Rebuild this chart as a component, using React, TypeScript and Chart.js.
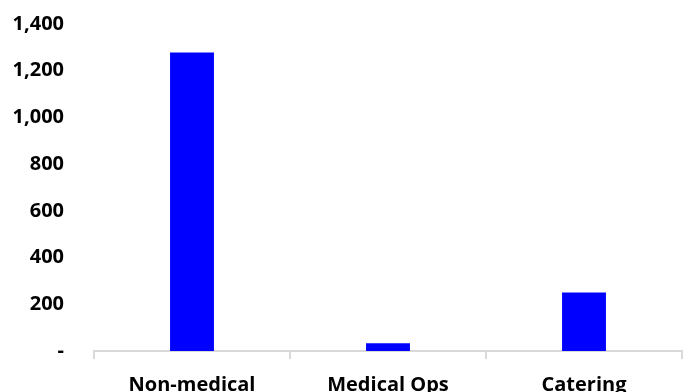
import React, { useEffect, useRef } from "react";
import { Chart, registerables } from "chart.js";

Chart.register(...registerables);

const categories = ["Non-medical", "Medical Ops", "Catering"];
const values = [1278, 33, 250];
const yMin = 0;
const yMax = 1400;
const yStep = 200;

export default function App() {
  const ref = useRef<HTMLCanvasElement | null>(null);
  useEffect(() => {
    document.body.style.margin = "0";
    const ctx = ref.current!;
    const font = { family: "'Open Sans', sans-serif", size: 20, weight: "bold" as const };
    const chart = new Chart(ctx, {
      type: "bar",
      data: {
        labels: categories,
        datasets: [
          {
            data: values,
            backgroundColor: "#0000FF",
            borderWidth: 0,
            categoryPercentage: 1,
            barPercentage: 0.224,
          },
        ],
      },
      options: {
        animation: false,
        responsive: false,
        maintainAspectRatio: false,
        layout: { padding: { top: 0, right: 4, left: 0, bottom: 0 } },
        plugins: { legend: { display: false }, tooltip: { enabled: false } },
        scales: {
          x: {
            offset: true,
            grid: {
              offset: true,
              drawOnChartArea: false,
              drawTicks: true,
              tickLength: 8,
              color: "#d9d9d9",
              lineWidth: 2,
            },
            border: { display: true, color: "#d9d9d9", width: 2 },
            ticks: { font, color: "#000", padding: 14, maxRotation: 0, autoSkip: false },
            afterFit: (s: any) => {
              s.height = 41;
            },
          },
          y: {
            min: yMin,
            max: yMax,
            grid: { display: false },
            border: { display: false },
            ticks: {
              stepSize: yStep,
              font,
              color: "#000",
              padding: 22,
              callback: (v: any) => (Number(v) === 0 ? "-" : Number(v).toLocaleString("en-US")),
            },
            afterFit: (s: any) => {
              s.width = 94;
              s.paddingTop = 24;
              s.paddingBottom = 0;
            },
          },
        },
      },
    });
    return () => chart.destroy();
  }, []);
  return (
    <div style={{ position: "absolute", left: 0, top: 0, width: 686, height: 392, overflow: "hidden" }}>
      <canvas ref={ref} width={686} height={392} style={{ display: "block" }} />
    </div>
  );
}
